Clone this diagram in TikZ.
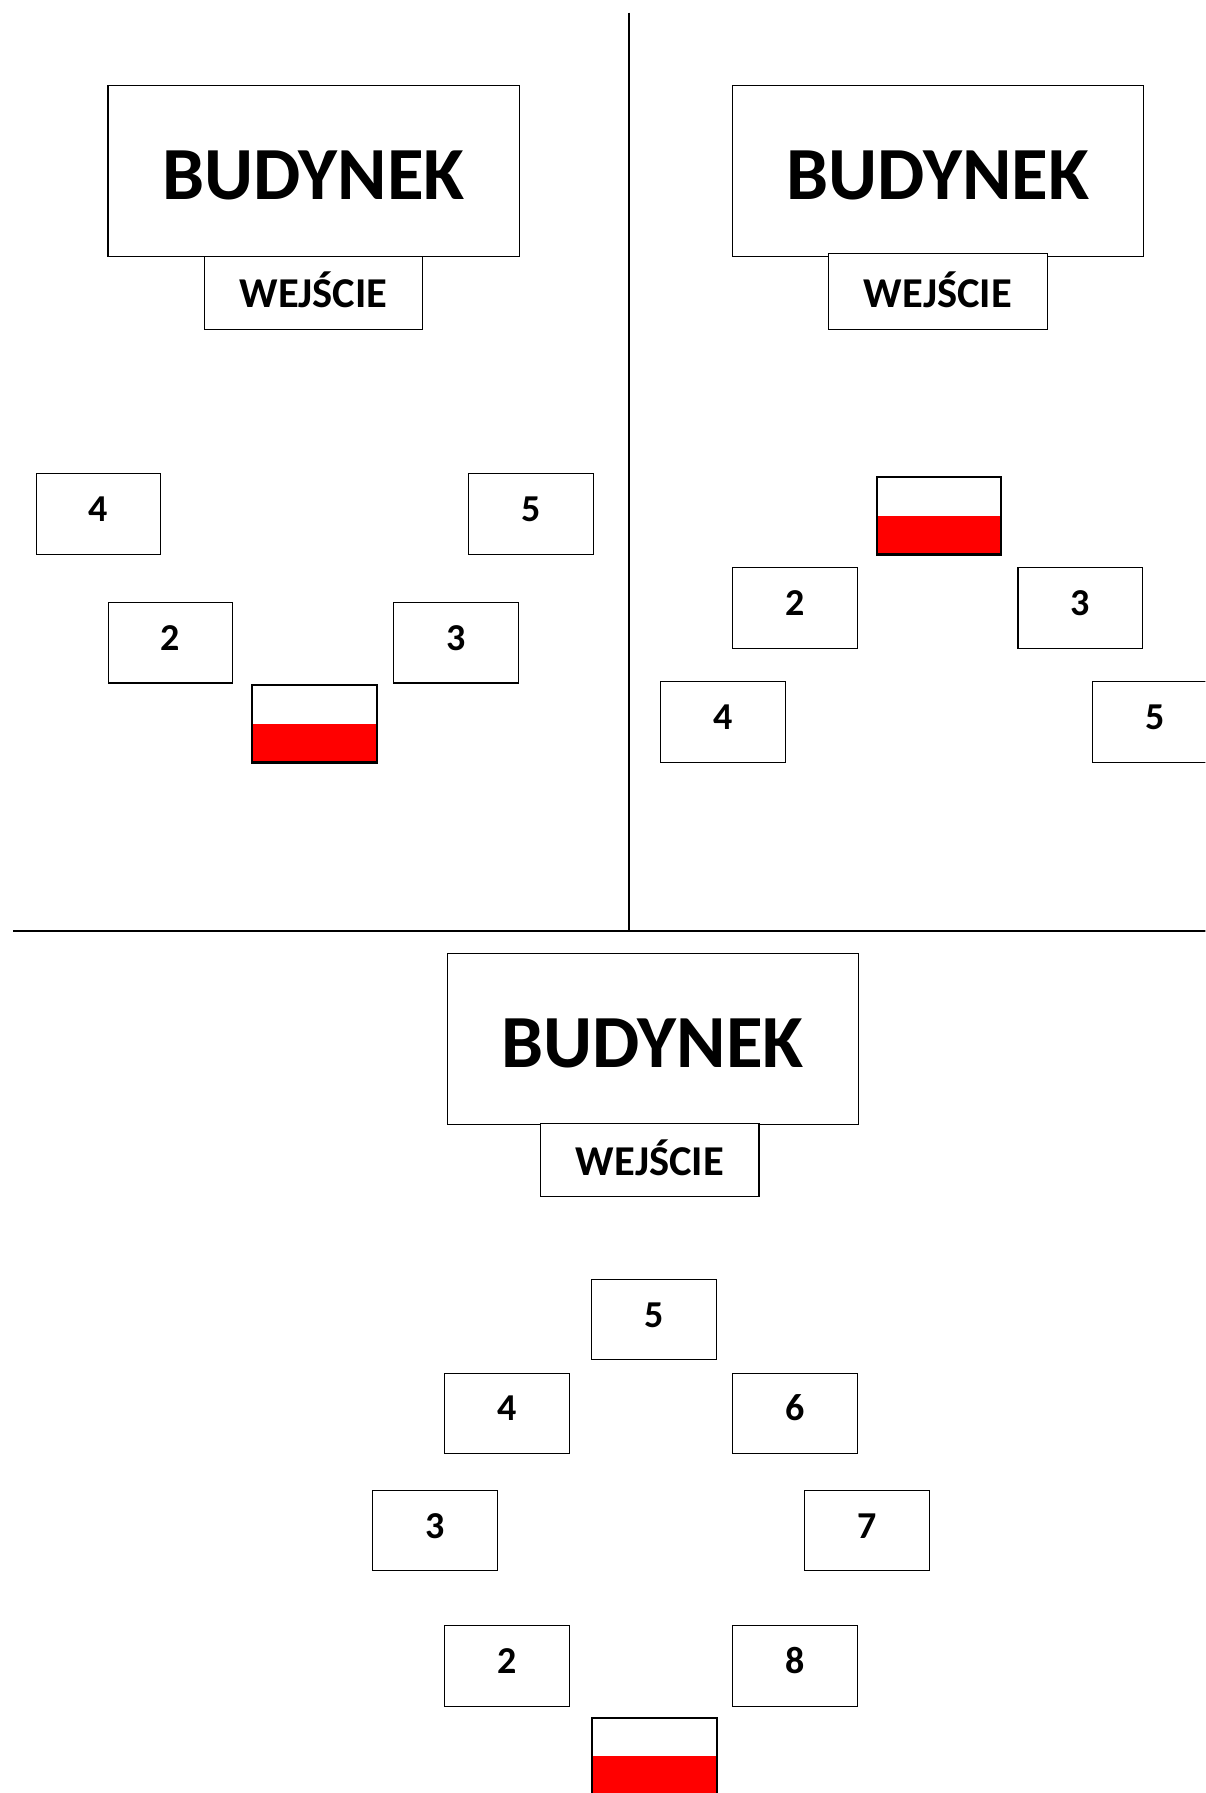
\documentclass[tikz,border=0pt]{standalone}
\usepackage{fontspec}
\setmainfont{Carlito}
\tikzset{
  base/.style={draw=black,fill=white,line width=1.1pt,inner sep=0pt,outer sep=0pt},
  bldg/.style={base,minimum width=411pt,minimum height=170.4pt,font=\fontsize{75}{75}\selectfont\bfseries},
  entry/.style={base,minimum width=218.4pt,minimum height=73pt,font=\fontsize{42.5}{42.5}\selectfont\bfseries},
  numbox/.style={base,minimum width=124.6pt,minimum height=80.6pt,font=\fontsize{38}{38}\selectfont\bfseries},
  flagbox/.style={draw=black,line width=2.2pt,inner sep=0pt,outer sep=0pt,minimum width=124.6pt,minimum height=77.5pt,
    path picture={\fill[red] (path picture bounding box.west) rectangle (path picture bounding box.south east);}},
  divider/.style={draw=black,line width=1.8pt}
}
\newcommand{\lift}[1]{\raisebox{-7.5pt}[0pt][0pt]{#1}}
\newcommand{\bname}{\raisebox{-29pt}[0pt][0pt]{BUDYNEK}}
\newcommand{\ename}{\raisebox{-15pt}[0pt][0pt]{WEJŚCIE}}
\begin{document}
\begin{tikzpicture}[x=1.14326pt,y=-1.14326pt]
\useasboundingbox (0,0) rectangle (1054,1568);
\clip (0,0) rectangle (1054,1568);
\fill[white] (0,0) rectangle (1054,1568);
\begin{scope}[xshift=0.8pt]
% dividers
\coordinate (vtop) at (549.5,11);
\coordinate (vbot) at (549.5,814.5);
\coordinate (hleft) at (11,814.5);
\coordinate (hright) at (1060,814.5);
\path[divider] (vtop) -- (vbot);
\path[divider] (hleft) -- (hright);
% panel 1
\node[bldg] (b1) at (273.5,149.5) {\bname};
\node[entry] (e1) at (273.5,256) {\ename};
\node[numbox] (p1n4) at (85.5,449.5) {\lift{4}};
\node[numbox] (p1n5) at (463.5,449.5) {\lift{5}};
\node[numbox] (p1n2) at (148.5,562) {\lift{2}};
\node[numbox] (p1n3) at (398,562) {\lift{3}};
\node[flagbox] (f1) at (274.5,633) {};
% panel 2
\node[bldg] (b2) at (819.5,149.5) {\bname};
\node[entry,minimum height=75.5pt] (e2) at (819.5,255) {\raisebox{-16pt}[0pt][0pt]{WEJŚCIE}};
\node[flagbox] (f2) at (820.5,451) {};
\node[numbox] (p2n2) at (694.5,531.5) {\lift{2}};
\node[numbox] (p2n3) at (944,531.5) {\lift{3}};
\node[numbox] (p2n4) at (631.5,631.5) {\lift{4}};
\node[numbox] (p2n5) at (1009.5,631.5) {\lift{5}};
% panel 3
\node[bldg] (b3) at (570,908.5) {\bname};
\node[entry] (e3) at (567.5,1014.5) {\ename};
\node[numbox] (p3n5) at (571,1154) {\lift{5}};
\node[numbox] (p3n4) at (442.5,1236) {\lift{4}};
\node[numbox] (p3n6) at (694.5,1236) {\lift{6}};
\node[numbox] (p3n3) at (379.5,1338.5) {\lift{3}};
\node[numbox] (p3n7) at (757.5,1338.5) {\lift{7}};
\node[numbox] (p3n2) at (442.5,1457) {\lift{2}};
\node[numbox] (p3n8) at (694.5,1457) {\lift{8}};
\node[flagbox] (f3) at (571.5,1536) {};
\end{scope}
\end{tikzpicture}
\end{document}
